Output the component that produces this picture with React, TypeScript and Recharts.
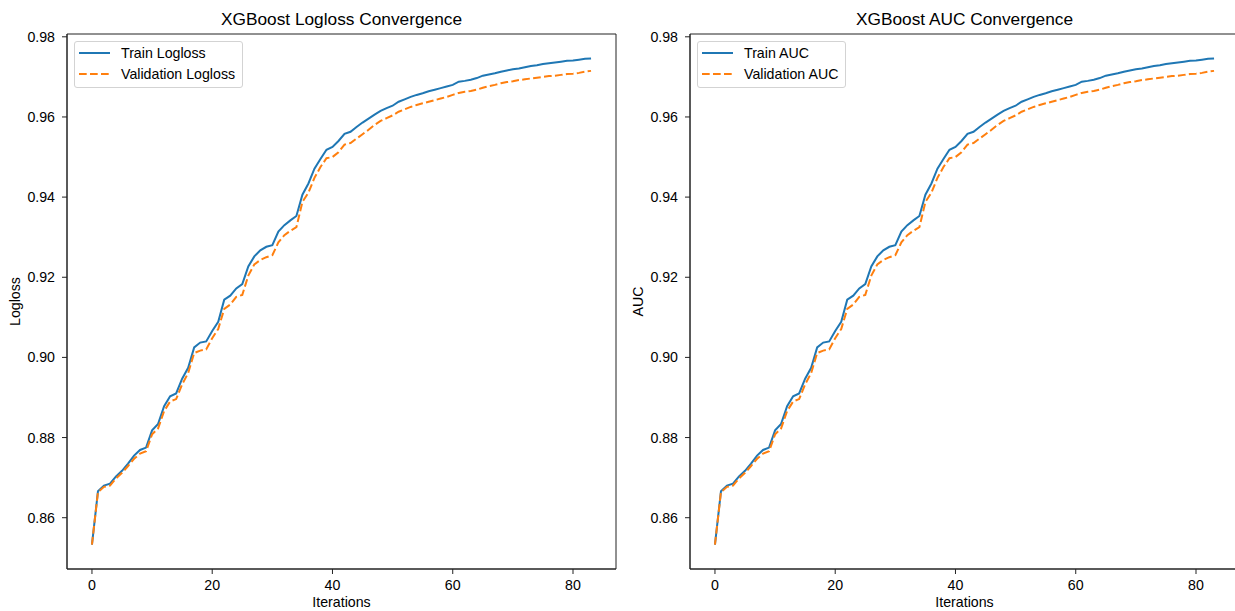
import React from 'react';
import { LineChart, Line, XAxis, YAxis, Legend, ReferenceArea } from 'recharts';

const FONT = '"Liberation Sans", Arial, Helvetica, sans-serif';

const trainValues = [
  0.8533, 0.8666, 0.868, 0.8685, 0.8703, 0.8717, 0.8735, 0.8755, 0.8769, 0.8775,
  0.8818, 0.8834, 0.8878, 0.8903, 0.891, 0.8947, 0.8974, 0.9025, 0.9037, 0.904,
  0.9066, 0.9089, 0.9144, 0.9154, 0.9172, 0.9183, 0.9227, 0.9252, 0.9267, 0.9276,
  0.928, 0.9314, 0.933, 0.9342, 0.9353, 0.9406, 0.9434, 0.9471, 0.9495, 0.9518,
  0.9525, 0.954, 0.9558, 0.9563, 0.9575, 0.9586, 0.9596, 0.9606, 0.9615, 0.9622,
  0.9628, 0.9638, 0.9644, 0.965, 0.9655, 0.9659, 0.9664, 0.9668, 0.9672, 0.9676,
  0.968, 0.9688, 0.969, 0.9693, 0.9697, 0.9703, 0.9706, 0.9709, 0.9713, 0.9716,
  0.9719, 0.9721, 0.9724, 0.9727, 0.9729, 0.9732, 0.9734, 0.9736, 0.9738, 0.974,
  0.9741, 0.9743, 0.9745, 0.9746,
];

const validationValues = [
  0.8533, 0.8664, 0.8677, 0.868, 0.8698, 0.8712, 0.8729, 0.8747, 0.876, 0.8766,
  0.8808, 0.8823, 0.8866, 0.889, 0.8896, 0.8933, 0.8961, 0.9011, 0.9017, 0.902,
  0.9048, 0.9071, 0.9121, 0.9132, 0.9151, 0.9156, 0.9204, 0.9232, 0.9243, 0.925,
  0.9255, 0.9287, 0.9305, 0.9316, 0.9325, 0.9388, 0.9411, 0.9448, 0.9475, 0.9497,
  0.95, 0.9512, 0.9531, 0.9535, 0.9546, 0.9557, 0.9568, 0.958, 0.959, 0.9597,
  0.9604, 0.9613, 0.9619, 0.9625, 0.963, 0.9634, 0.9638, 0.9642, 0.9646, 0.965,
  0.9655, 0.966, 0.9663, 0.9665, 0.9668, 0.9673, 0.9677, 0.968, 0.9684, 0.9687,
  0.9689, 0.9692, 0.9694, 0.9696, 0.9698, 0.97, 0.9702, 0.9703, 0.9705, 0.9707,
  0.9708, 0.971, 0.9713, 0.9715,
];

const xTicks = [0, 20, 40, 60, 80];
const yTicks = [0.86, 0.88, 0.9, 0.92, 0.94, 0.96, 0.98];
const X_DOMAIN: [number, number] = [-4.15, 87.15];
const Y_DOMAIN: [number, number] = [0.8472, 0.9807];

const titles = ['XGBoost Logloss Convergence', 'XGBoost AUC Convergence'];
const yLabels = ['Logloss', 'AUC'];
const trainNames = ['Train Logloss', 'Train AUC'];
const validationNames = ['Validation Logloss', 'Validation AUC'];
const panelLefts = [0, 623];

const rows = trainValues.map((v, i) => ({ iter: i, train: v, validation: validationValues[i] }));

const BLUE = '#1f77b4';
const ORANGE = '#ff7f0e';
const AXIS = '#222';
const FS = 14.2;

const LegendBox = (props: any) => {
  const payload = props.payload || [];
  return (
    <div
      style={{
        border: '1px solid #d3d3d3',
        borderRadius: 3,
        background: 'rgba(255,255,255,0.8)',
        padding: '1px 7px 3px 4px',
        fontFamily: FONT,
        fontSize: FS,
        color: '#000',
        boxSizing: 'border-box',
      }}
    >
      {payload.map((entry: any, i: number) => (
        <div key={i} style={{ display: 'flex', alignItems: 'center', height: 20.4 }}>
          <svg width={31} height={6} style={{ display: 'block' }}>
            <line
              x1={0}
              y1={3}
              x2={31}
              y2={3}
              stroke={entry.color}
              strokeWidth={2}
              strokeDasharray={entry.payload && entry.payload.strokeDasharray}
            />
          </svg>
          <span style={{ marginLeft: 11, lineHeight: '16px', whiteSpace: 'nowrap' }}>{entry.value}</span>
        </div>
      ))}
    </div>
  );
};

const Panel = ({ idx }: { idx: number }) => (
  <div style={{ position: 'absolute', left: panelLefts[idx], top: 0, width: 620, height: 611 }}>
    <div
      style={{
        position: 'absolute',
        left: 67,
        width: 549,
        top: 10.5,
        textAlign: 'center',
        fontFamily: FONT,
        fontSize: 17.3,
        lineHeight: '17.3px',
        color: '#000',
        whiteSpace: 'nowrap',
      }}
    >
      {titles[idx]}
    </div>
    <LineChart width={620} height={611} data={rows} margin={{ top: 34, right: 4, bottom: 0, left: 0 }}>
      <XAxis
        xAxisId="x"
        dataKey="iter"
        type="number"
        domain={X_DOMAIN}
        ticks={xTicks}
        allowDataOverflow
        height={42}
        tickSize={5}
        tickMargin={6}
        stroke={AXIS}
        tick={{ fontSize: FS, fill: '#000', fontFamily: FONT }}
        label={{ value: 'Iterations', position: 'insideBottom', offset: 4, fill: '#000', fontSize: FS, fontFamily: FONT }}
      />
      <YAxis
        yAxisId="y"
        type="number"
        domain={Y_DOMAIN}
        ticks={yTicks}
        allowDataOverflow
        width={67}
        tickSize={5}
        tickMargin={7}
        stroke={AXIS}
        tickFormatter={(v: number) => v.toFixed(2)}
        tick={{ fontSize: FS, fill: '#000', fontFamily: FONT }}
        label={{
          value: yLabels[idx],
          angle: -90,
          position: 'insideLeft',
          offset: 15,
          fill: '#000',
          fontSize: FS,
          fontFamily: FONT,
          style: { textAnchor: 'middle' },
        }}
      />
      <ReferenceArea
        xAxisId="x"
        yAxisId="y"
        x1={X_DOMAIN[0]}
        x2={X_DOMAIN[1]}
        y1={Y_DOMAIN[0]}
        y2={Y_DOMAIN[1]}
        fill="none"
        fillOpacity={0}
        stroke={AXIS}
        strokeWidth={1}
        strokeOpacity={1}
        ifOverflow="visible"
      />
      <Legend
        layout="horizontal"
        verticalAlign="middle"
        align="center"
        wrapperStyle={{ left: 74, top: 41, width: 'auto', height: 'auto' }}
        content={<LegendBox />}
      />
      <Line
        xAxisId="x"
        yAxisId="y"
        type="linear"
        dataKey="train"
        name={trainNames[idx]}
        stroke={BLUE}
        strokeWidth={2}
        dot={false}
        activeDot={false}
        isAnimationActive={false}
      />
      <Line
        xAxisId="x"
        yAxisId="y"
        type="linear"
        dataKey="validation"
        name={validationNames[idx]}
        stroke={ORANGE}
        strokeWidth={2}
        strokeDasharray="7.7 3.3"
        dot={false}
        activeDot={false}
        isAnimationActive={false}
      />
    </LineChart>
  </div>
);

export default function App() {
  return (
    <div
      style={{
        position: 'absolute',
        left: 0,
        top: 0,
        width: 1235,
        height: 611,
        overflow: 'hidden',
        background: '#fff',
      }}
    >
      <Panel idx={0} />
      <Panel idx={1} />
    </div>
  );
}
